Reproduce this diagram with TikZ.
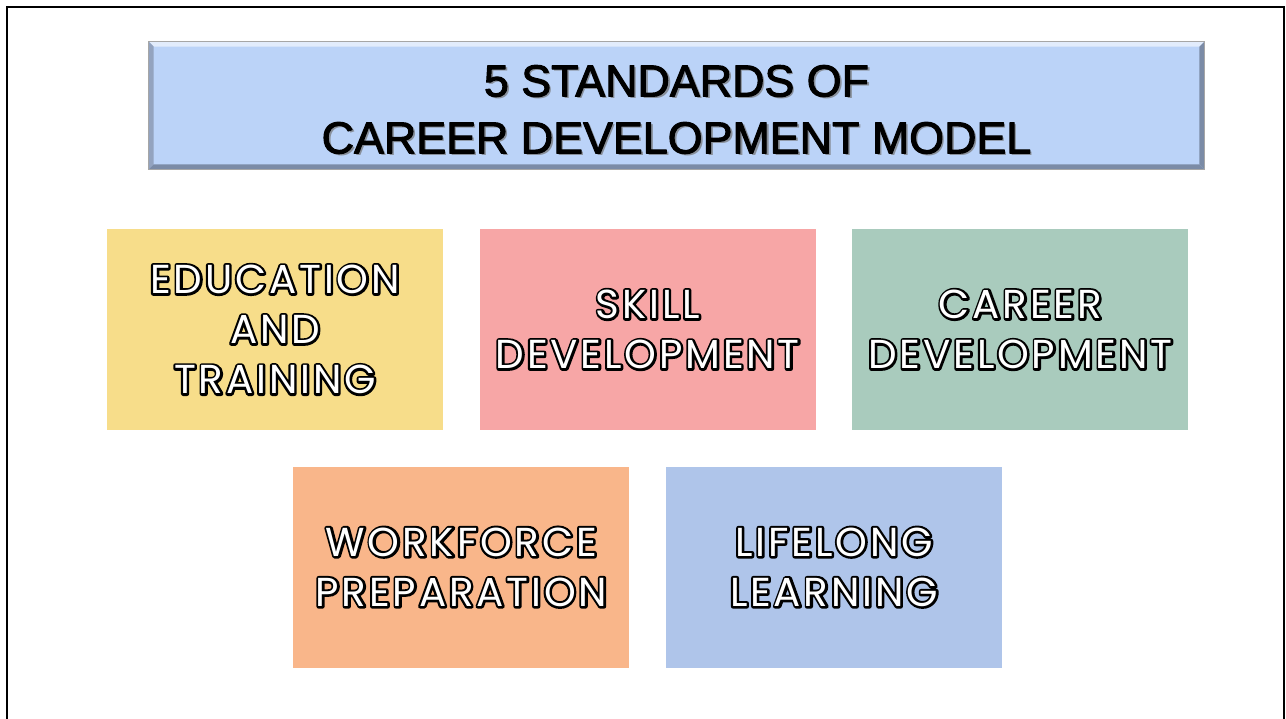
\documentclass[tikz,border=0pt]{standalone}
\usepackage{fontspec}
\setmainfont{Liberation Sans}
\newfontfamily\boxfont[LetterSpace=7]{Poppins}
\usetikzlibrary{positioning}
\usetikzlibrary{calc}
\definecolor{titleblue}{HTML}{BBD3F8}
\definecolor{bevellight}{HTML}{E2ECFC}
\definecolor{beveldark}{HTML}{7B8BA6}
\definecolor{bevelmid}{HTML}{93A3BF}
\definecolor{eduyellow}{HTML}{F7DD8A}
\definecolor{skillpink}{HTML}{F7A6A6}
\definecolor{careergreen}{HTML}{A9CBBD}
\definecolor{workorange}{HTML}{F9B68A}
\definecolor{lifeblue}{HTML}{AFC5EA}
\newcommand{\outl}[1]{\makebox[0pt][l]{\special{pdf:literal direct 1 Tr 2.6 w 1 j 0 0 0 RG}#1\special{pdf:literal direct 0 Tr}}#1}
\newcommand{\heavy}[1]{\special{pdf:literal direct 2 Tr 0.6 w 1 j 0 0 0 RG}#1\special{pdf:literal direct 0 Tr}}
\tikzset{
	block/.style={
		rectangle,
		align=center,
		minimum width=6.72cm,
		minimum height=4.02cm,
		inner sep=0pt,
		text=white,
		font=\boxfont\fontsize{23}{28.5}\selectfont
	},
	headline/.style={
		align=center,
		inner sep=0pt,
		font=\fontsize{25.5}{32.4}\selectfont
	}
}

\begin{document}
\begin{tikzpicture}[node distance=0.72cm]
		\useasboundingbox (0,0) rectangle (25.72,-14.38);
		\fill[white] (0,0) rectangle (25.72,-14.38);
		\draw[line width=0.05cm] (0.14,-14.6) -- (0.14,-0.14) -- (25.68,-0.14) -- (25.68,-14.6);
		
		\draw node[rectangle, fill=titleblue, minimum width=21.1cm, minimum height=2.54cm](Title) at (13.53,-2.11){};
		\fill[bevellight] (Title.north west) -- (Title.north east) -- ++(-0.1,-0.1) -- ($(Title.north west)+(0.1,-0.1)$) -- cycle;
		\fill[bevelmid] (Title.north west) -- ($(Title.north west)+(0.1,-0.1)$) -- ($(Title.south west)+(0.1,0.1)$) -- (Title.south west) -- cycle;
		\fill[beveldark] (Title.south west) -- (Title.south east) -- ++(-0.1,0.1) -- ($(Title.south west)+(0.1,0.1)$) -- cycle;
		\fill[beveldark] (Title.north east) -- (Title.south east) -- ++(-0.1,0.1) -- ($(Title.north east)+(-0.1,-0.1)$) -- cycle;
		\draw[gray!70, line width=0.4pt] (Title.north west) rectangle (Title.south east);
		\draw node[headline, text=black!55, opacity=0.7] (TitleShadow) at ($(Title.center)+(0.05,-0.13)$){5 STANDARDS OF\\CAREER DEVELOPMENT MODEL};
		\draw node[headline] (TitleText) at ($(Title.center)+(0,-0.08)$){\heavy{5 STANDARDS OF}\\\heavy{CAREER DEVELOPMENT MODEL}};
		
		\draw node[block, fill=eduyellow](Education) at (5.5,-6.59){\outl{EDUCATION}\\\outl{AND}\\\outl{TRAINING}};
		\draw node[block, fill=skillpink, right=of Education](Skill){\outl{SKILL}\\\outl{DEVELOPMENT}};
		\draw node[block, fill=careergreen, right=of Skill](Career){\outl{CAREER}\\\outl{DEVELOPMENT}};
		\coordinate (RowMid) at ($(Education.south)!0.5!(Skill.south)$);
		\draw node[block, fill=workorange, below=of RowMid](Workforce){\outl{WORKFORCE}\\\outl{PREPARATION}};
		\draw node[block, fill=lifeblue, right=of Workforce](Lifelong){\outl{LIFELONG}\\\outl{LEARNING}};
	\end{tikzpicture}
\end{document}
